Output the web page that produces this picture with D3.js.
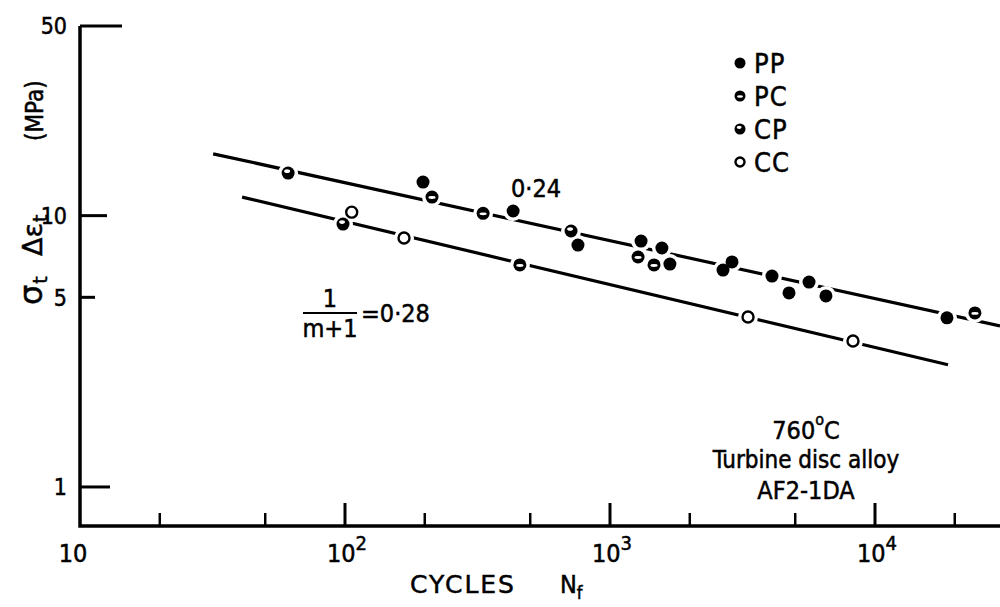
<!DOCTYPE html>
<meta charset="utf-8">
<script src="https://cdn.jsdelivr.net/npm/d3@7"></script>
<style>
body { margin: 0; background: #fff; }
text {
  fill: #000;
  stroke: #000;
  stroke-width: 0.5px;
  font-family: "DejaVu Sans Condensed", "Liberation Sans Narrow", "DejaVu Sans", sans-serif;
}
text.wide { font-family: "DejaVu Sans", sans-serif; }
</style>
<body>
<script>
var width = 1000,
    height = 607;

// data: cycles to failure vs sigma_t * delta eps_t (MPa)
var ppN = [197, 431, 757, 1310, 1570, 1683, 2670, 2887, 4086, 4738, 5637, 6531, 18690];
var ppV = [13.3, 10.4, 7.79, 8.06, 7.60, 6.63, 6.30, 6.75, 5.99, 5.19, 5.69, 5.06, 4.20];

var pcN = [213, 332, 457, 1276, 1466, 23830];
var pcV = [11.71, 10.2, 6.58, 7.04, 6.58, 4.38];

var cpN = [61, 98.3, 713];
var cpV = [14.35, 9.31, 8.78];

var ccN = [106, 167, 3318, 8260];
var ccV = [10.3, 8.27, 4.23, 3.45];

// fitted lines (end points)
var upperN = [31.8, 29630], upperV = [16.9, 3.92];
var lowerN = [40.9, 18860], lowerV = [11.7, 2.82];

var xMajor = [100, 1000, 10000];
var xMinor = [20, 50, 200, 500, 2000, 5000, 20000];
var xLabelVals = [10, 100, 1000, 10000];
var xLabelExp = ["", "2", "3", "4"];
var yTicks = [1, 5, 10, 50];
var yTickLen = [30, 15, 27, 42];

var legendNames = ["PP", "PC", "CP", "CC"];

var x = d3.scaleLog().domain([10, 29630]).range([80, 1000]);
var y = d3.scaleLog().domain([0.718, 50]).range([526, 26]);

var svg = d3.select("body").append("svg")
    .attr("width", width)
    .attr("height", height);

// axes
svg.append("path")
    .attr("d", "M" + x(10) + "," + y(50) + "V" + y(0.718) + "H" + width)
    .attr("fill", "none")
    .attr("stroke", "#000")
    .attr("stroke-width", 3.5);

svg.selectAll(".ytick").data(yTicks).enter().append("line")
    .attr("x1", x(10)).attr("x2", function(d, i) { return x(10) + yTickLen[i]; })
    .attr("y1", function(d) { return y(d); }).attr("y2", function(d) { return y(d); })
    .attr("stroke", "#000").attr("stroke-width", 3);

svg.selectAll(".ylab").data(yTicks).enter().append("text")
    .attr("x", 67)
    .attr("y", function(d) { return y(d); })
    .attr("dy", "0.36em")
    .attr("text-anchor", "end")
    .attr("font-size", 23)
    .text(function(d) { return d; });

svg.selectAll(".xmaj").data(xMajor).enter().append("line")
    .attr("x1", function(d) { return x(d); }).attr("x2", function(d) { return x(d); })
    .attr("y1", y(0.718)).attr("y2", y(0.718) - 23)
    .attr("stroke", "#000").attr("stroke-width", 3);

svg.selectAll(".xmin").data(xMinor).enter().append("line")
    .attr("x1", function(d) { return x(d); }).attr("x2", function(d) { return x(d); })
    .attr("y1", y(0.718)).attr("y2", y(0.718) - 13)
    .attr("stroke", "#000").attr("stroke-width", 2.5);

var xl = svg.selectAll(".xlab").data(xLabelVals).enter().append("text")
    .attr("x", function(d, i) { return i == 0 ? x(d) - 7 : x(d) + 2; })
    .attr("y", 562)
    .attr("text-anchor", "middle")
    .attr("font-size", 25);
xl.append("tspan").text("10");
xl.append("tspan")
    .attr("dy", -12)
    .attr("font-size", 20)
    .text(function(d, i) { return xLabelExp[i]; });

// axis titles
svg.append("text")
    .attr("class", "wide")
    .attr("x", 410).attr("y", 593)
    .attr("font-size", 25)
    .attr("letter-spacing", 2)
    .text("CYCLES");
var xt = svg.append("text")
    .attr("x", 560).attr("y", 593)
    .attr("font-size", 25);
xt.append("tspan").text("N");
xt.append("tspan").attr("dy", 6).attr("font-size", 18).text("f");

var yt1 = svg.append("text")
    .attr("class", "wide")
    .attr("transform", "translate(42,305)rotate(-90)")
    .attr("font-size", 32);
yt1.append("tspan").text("σ");
yt1.append("tspan").attr("dy", 5).attr("dx", 1).attr("font-size", 19).text("t");
var yt2 = svg.append("text")
    .attr("class", "wide")
    .attr("transform", "translate(42,256)rotate(-90)")
    .attr("font-size", 27);
yt2.append("tspan").text("Δε");
yt2.append("tspan").attr("dy", 5).attr("dx", 1).attr("font-size", 19).text("t");
svg.append("text")
    .attr("transform", "translate(43,141)rotate(-90)")
    .attr("font-size", 24)
    .text("(MPa)");

// fitted lines
var line = d3.line()
    .x(function(d) { return x(d[0]); })
    .y(function(d) { return y(d[1]); });

svg.append("path")
    .attr("d", line(d3.zip(upperN, upperV)))
    .attr("fill", "none").attr("stroke", "#000").attr("stroke-width", 3.2);
svg.append("path")
    .attr("d", line(d3.zip(lowerN, lowerV)))
    .attr("fill", "none").attr("stroke", "#000").attr("stroke-width", 3.2);

var pts = [];
d3.zip(ppN, ppV).forEach(function(d) { pts.push({n: d[0], v: d[1], t: "PP"}); });
d3.zip(pcN, pcV).forEach(function(d) { pts.push({n: d[0], v: d[1], t: "PC"}); });
d3.zip(cpN, cpV).forEach(function(d) { pts.push({n: d[0], v: d[1], t: "CP"}); });
d3.zip(ccN, ccV).forEach(function(d) { pts.push({n: d[0], v: d[1], t: "CC"}); });

// white gaps in the lines around the points
svg.selectAll(".halo").data(pts).enter().append("circle")
    .attr("cx", function(d) { return x(d.n); })
    .attr("cy", function(d) { return y(d.v); })
    .attr("r", 10)
    .attr("fill", "#fff");

function drawMarker(g, type, r) {
  if (type == "CC") {
    g.append("circle").attr("r", r - 1).attr("fill", "#fff")
      .attr("stroke", "#000").attr("stroke-width", 2.4);
    return;
  }
  g.append("circle").attr("r", r).attr("fill", "#000");
  if (type == "PC") {
    g.append("ellipse").attr("cx", 0).attr("cy", 0.5)
      .attr("rx", r * 0.55).attr("ry", r * 0.22).attr("fill", "#fff");
  } else if (type == "CP") {
    g.append("ellipse").attr("cx", -r * 0.15).attr("cy", -r * 0.3)
      .attr("rx", r * 0.45).attr("ry", r * 0.28).attr("fill", "#fff");
  }
}

svg.selectAll(".pt").data(pts).enter().append("g")
    .attr("transform", function(d) { return "translate(" + x(d.n) + "," + y(d.v) + ")"; })
    .each(function(d) { drawMarker(d3.select(this), d.t, 6.5); });

// legend
var leg = svg.selectAll(".leg").data(legendNames).enter().append("g")
    .attr("transform", function(d, i) { return "translate(740," + (63 + i * 33) + ")"; });
leg.each(function(d) { drawMarker(d3.select(this), d, 5.5); });
leg.append("text")
    .attr("x", 14).attr("y", 10)
    .attr("font-size", 27)
    .attr("letter-spacing", 1)
    .text(function(d) { return d; });

// annotations
svg.append("text").attr("x", 511).attr("y", 197).attr("font-size", 25).text("0·24");

svg.append("text").attr("x", 330).attr("y", 307).attr("text-anchor", "middle")
    .attr("font-size", 25).text("1");
svg.append("line").attr("x1", 303).attr("x2", 357).attr("y1", 313).attr("y2", 313)
    .attr("stroke", "#000").attr("stroke-width", 2);
svg.append("text").attr("x", 330).attr("y", 337).attr("text-anchor", "middle")
    .attr("font-size", 25).text("m+1");
svg.append("text").attr("x", 361).attr("y", 322)
    .attr("font-size", 25).text("=0·28");

var note = svg.append("text").attr("x", 806).attr("y", 439)
    .attr("text-anchor", "middle").attr("font-size", 25);
note.append("tspan").text("760");
note.append("tspan").attr("dy", -14).attr("font-size", 16).text("o");
note.append("tspan").attr("dy", 14).text("C");
svg.append("text").attr("x", 806).attr("y", 468)
    .attr("text-anchor", "middle").attr("font-size", 24).text("Turbine disc alloy");
svg.append("text").attr("x", 806).attr("y", 499)
    .attr("text-anchor", "middle").attr("font-size", 25).text("AF2-1DA");
</script>
</body>
</html>
